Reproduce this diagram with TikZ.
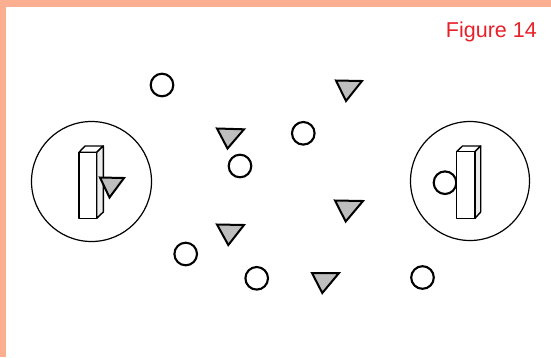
\documentclass[tikz,border=0pt]{standalone}
\usepackage{fontspec}
\setmainfont{Liberation Sans}
\definecolor{frame}{RGB}{252,174,145}
\definecolor{figred}{RGB}{232,32,42}
\definecolor{trifill}{RGB}{190,190,190}
\tikzset{
  token/.style={draw=black, line width=2.1pt, fill=white},
  tri/.style={draw=black, line width=2pt, fill=trifill, line join=miter},
  zone/.style={draw=black, line width=1.2pt},
  pillar/.style={draw=black, line width=1.4pt, fill=white, line join=round},
  pillarside/.style={draw=black, line width=1.4pt, fill=gray!15, line join=round}
}
\begin{document}
\begin{tikzpicture}[x=1pt,y=-1pt]
\useasboundingbox (0,0) rectangle (551,357);
\fill[white] (0,0) rectangle (551,357);
\fill[frame] (0,0) rectangle (551,6.5);
\fill[frame] (0,0) rectangle (6,357);
\node[anchor=base east, text=figred, font=\fontsize{21.5}{24}\selectfont, inner sep=0pt] (title) at (537,37.5) {Figure 14};

% big zones
\draw[zone] (91.5,181.5) circle (60);
\draw[zone] (470,181) circle (59.5);

% left pillar
\draw[pillar] (79,152.3) -- (85,146) -- (103.3,146) -- (96.7,152.3) -- cycle;
\draw[pillarside] (96.7,152.3) -- (103.3,146) -- (103.3,212) -- (96.7,218.3) -- cycle;
\draw[pillar] (79,152.3) rectangle (96.7,218.3);
\draw[tri] (100,177.5) -- (124,178) -- (109.5,197.5) -- cycle;

% right pillar
\draw[token] (445,182.7) circle (11.3);
\draw[pillar] (456.7,151.7) -- (462.5,146) -- (480.7,146) -- (475,151.7) -- cycle;
\draw[pillarside] (475,151.7) -- (480.7,146) -- (480.7,212) -- (475,218.3) -- cycle;
\draw[pillar] (456.7,151.7) rectangle (475,218.3);

% free circles
\draw[token] (162,85) circle (11.3);
\draw[token] (303.3,133.3) circle (11.3);
\draw[token] (240,166) circle (11.3);
\draw[token] (185.7,254) circle (11.3);
\draw[token] (256.7,278.3) circle (11.3);
\draw[token] (422.5,277.5) circle (11.3);

% free triangles
\draw[tri] (336,80.5) -- (362,81) -- (346,101) -- cycle;
\draw[tri] (217,128.5) -- (244,129.3) -- (227.5,148.5) -- cycle;
\draw[tri] (217,224.5) -- (244,225) -- (228.3,245) -- cycle;
\draw[tri] (335,200.5) -- (363,201) -- (345.7,221.5) -- cycle;
\draw[tri] (312,273) -- (339,273) -- (322.3,293) -- cycle;
\end{tikzpicture}
\end{document}
